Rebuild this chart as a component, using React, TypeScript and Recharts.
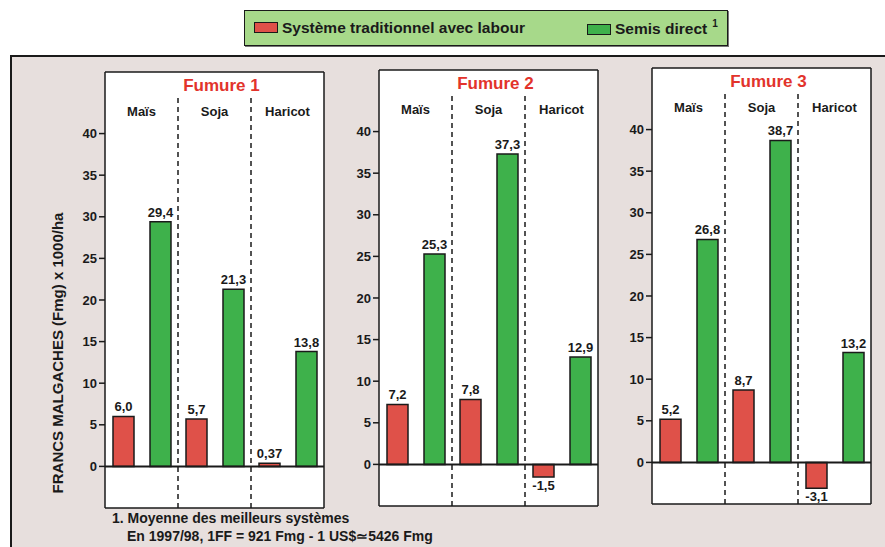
import React from "react";
import { BarChart, Bar, XAxis, YAxis, CartesianGrid, ReferenceLine, LabelList } from "recharts";

const categories = ["Maïs", "Soja", "Haricot"];
const panelTitles = ["Fumure 1", "Fumure 2", "Fumure 3"];
const seriesNames = ["Système traditionnel avec labour", "Semis direct"];

const tradFumure1 = [6.0, 5.7, 0.37];
const directFumure1 = [29.4, 21.3, 13.8];
const tradFumure2 = [7.2, 7.8, -1.5];
const directFumure2 = [25.3, 37.3, 12.9];
const tradFumure3 = [5.2, 8.7, -3.1];
const directFumure3 = [26.8, 38.7, 13.2];

const yTicks = [-5, 0, 5, 10, 15, 20, 25, 30, 35, 40];
const yAxisTitle = "FRANCS MALGACHES (Fmg) x 1000/ha";
const footnotes = ["1. Moyenne des meilleurs systèmes", "En 1997/98, 1FF = 921 Fmg - 1 US$\u22435426 Fmg"];

const RED = "#df5149";
const GREEN = "#3eb14b";
const INK = "#1a1a1a";
const FONT = "'Liberation Sans', Arial, Helvetica, sans-serif";

const Y_MIN = -5;
const Y_MAX = 47.4;
const DIVIDER_TOP = 44.4;

// plot box of each panel (white frame)
const PLOT_W = 219;
const PLOT_H = 436;
const AXIS_W = 60;
const M = { top: 5, right: 5, bottom: 5, left: 0 };
const panelBoxes = [
  { left: 105, top: 72 },
  { left: 379, top: 70 },
  { left: 652, top: 68 },
];

const fmt = (v: number) => (Number.isInteger(v) ? v.toFixed(1) : String(v)).replace(".", ",");

function ValueLabel(props: any) {
  const { x, y, width, height, value } = props;
  const top = Math.min(y, y + height);
  const bottom = Math.max(y, y + height);
  const cx = x + width / 2;
  const ty = value < 0 ? bottom + 13 : top - 5;
  return (
    <text x={cx} y={ty} textAnchor="middle" fontSize={13} fontWeight={700} fill={INK} fontFamily={FONT}>
      {fmt(value)}
    </text>
  );
}

function YTitle(props: any) {
  const { viewBox } = props;
  const cx = viewBox.x + 12;
  const cy = viewBox.y + viewBox.height / 2 + 63;
  return (
    <text
      x={cx}
      y={cy}
      transform={`rotate(-90 ${cx} ${cy})`}
      textAnchor="middle"
      dominantBaseline="central"
      fontSize={15}
      fontWeight={700}
      fill={INK}
      fontFamily={FONT}
    >
      {yAxisTitle}
    </text>
  );
}

function Panel({ index, trad, direct }: { index: number; trad: number[]; direct: number[] }) {
  const data = categories.map((c, i) => ({ name: c, trad: trad[i], direct: direct[i] }));
  const box = panelBoxes[index];
  const w = AXIS_W + M.left + PLOT_W + M.right;
  const h = M.top + PLOT_H + M.bottom;
  return (
    <div style={{ position: "absolute", left: box.left - AXIS_W - M.left, top: box.top - M.top }}>
      <BarChart width={w} height={h} data={data} margin={M} barSize={21} barGap={16}>
        <CartesianGrid horizontal={false} vertical={false} fill="#ffffff" fillOpacity={1} />
        <XAxis
          dataKey="name"
          orientation="top"
          mirror
          tickLine={false}
          axisLine={false}
          dy={27}
          tick={{ fontSize: 13, fontWeight: 700, fill: INK, fontFamily: FONT }}
        />
        <YAxis
          type="number"
          domain={[Y_MIN, Y_MAX]}
          ticks={yTicks}
          width={AXIS_W}
          tickSize={6}
          tickMargin={2}
          axisLine={{ stroke: INK, strokeWidth: 1.5 }}
          tickLine={{ stroke: INK, strokeWidth: 1.5 }}
          tick={{ fontSize: 13, fontWeight: 700, fill: INK, fontFamily: FONT }}
          label={index === 0 ? <YTitle /> : undefined}
        />
        <ReferenceLine
          y={Y_MAX}
          stroke={INK}
          strokeWidth={1.5}
          label={{
            value: panelTitles[index],
            position: "bottom",
            offset: 7,
            dx: 7,
            fill: "#e2332b",
            fontSize: 17,
            fontWeight: 700,
            fontFamily: FONT,
          }}
        />
        <ReferenceLine y={Y_MIN} stroke={INK} strokeWidth={1.5} />
        <ReferenceLine x={categories[categories.length - 1]} position="end" stroke={INK} strokeWidth={1.5} />
        {categories.slice(1).map((c) => (
          <ReferenceLine
            key={c}
            position="start"
            segment={[
              { x: c, y: Y_MIN },
              { x: c, y: DIVIDER_TOP },
            ]}
            stroke={INK}
            strokeWidth={1.5}
            strokeDasharray="5 4"
          />
        ))}
        <Bar dataKey="trad" name={seriesNames[0]} fill={RED} stroke={INK} strokeWidth={1.5} isAnimationActive={false}>
          <LabelList dataKey="trad" content={<ValueLabel />} />
        </Bar>
        <Bar dataKey="direct" name={seriesNames[1]} fill={GREEN} stroke={INK} strokeWidth={1.5} isAnimationActive={false}>
          <LabelList dataKey="direct" content={<ValueLabel />} />
        </Bar>
        <ReferenceLine y={0} stroke={INK} strokeWidth={2} />
      </BarChart>
    </div>
  );
}

function Swatch({ color }: { color: string }) {
  return (
    <span
      style={{
        display: "inline-block",
        width: 22,
        height: 9,
        background: color,
        border: `1.5px solid ${INK}`,
        marginRight: 4,
        verticalAlign: "middle",
      }}
    />
  );
}

export default function App() {
  const legendText: React.CSSProperties = {
    fontSize: 15.5,
    fontWeight: 700,
    color: INK,
    verticalAlign: "middle",
  };
  const noteStyle: React.CSSProperties = {
    position: "absolute",
    fontSize: 14,
    fontWeight: 700,
    color: INK,
    whiteSpace: "nowrap",
  };
  return (
    <div
      style={{
        position: "absolute",
        left: 0,
        top: 0,
        width: 885,
        height: 547,
        overflow: "hidden",
        background: "#ffffff",
        fontFamily: FONT,
      }}
    >
      <div
        style={{
          position: "absolute",
          left: 10,
          top: 55,
          width: 900,
          height: 520,
          background: "#e7dfdd",
          borderTop: `2px solid ${INK}`,
          borderLeft: `2px solid ${INK}`,
        }}
      />
      <div
        style={{
          position: "absolute",
          left: 244,
          top: 10,
          width: 482,
          height: 34,
          background: "#a7d98a",
          border: `1.5px solid ${INK}`,
          boxShadow: "1px 1px 0 #777",
        }}
      >
        <div style={{ position: "absolute", left: 9, top: 7, whiteSpace: "nowrap" }}>
          <Swatch color={RED} />
          <span style={legendText}>{seriesNames[0]}</span>
        </div>
        <div style={{ position: "absolute", left: 342, top: 7, whiteSpace: "nowrap" }}>
          <Swatch color={GREEN} />
          <span style={legendText}>{seriesNames[1]}</span>
          <sup style={{ fontSize: 10, fontWeight: 700, marginLeft: 5, color: INK }}>1</sup>
        </div>
      </div>

      <Panel index={0} trad={tradFumure1} direct={directFumure1} />
      <Panel index={1} trad={tradFumure2} direct={directFumure2} />
      <Panel index={2} trad={tradFumure3} direct={directFumure3} />

      <div style={{ ...noteStyle, left: 112, top: 510 }}>{footnotes[0]}</div>
      <div style={{ ...noteStyle, left: 127, top: 528 }}>{footnotes[1]}</div>
    </div>
  );
}
